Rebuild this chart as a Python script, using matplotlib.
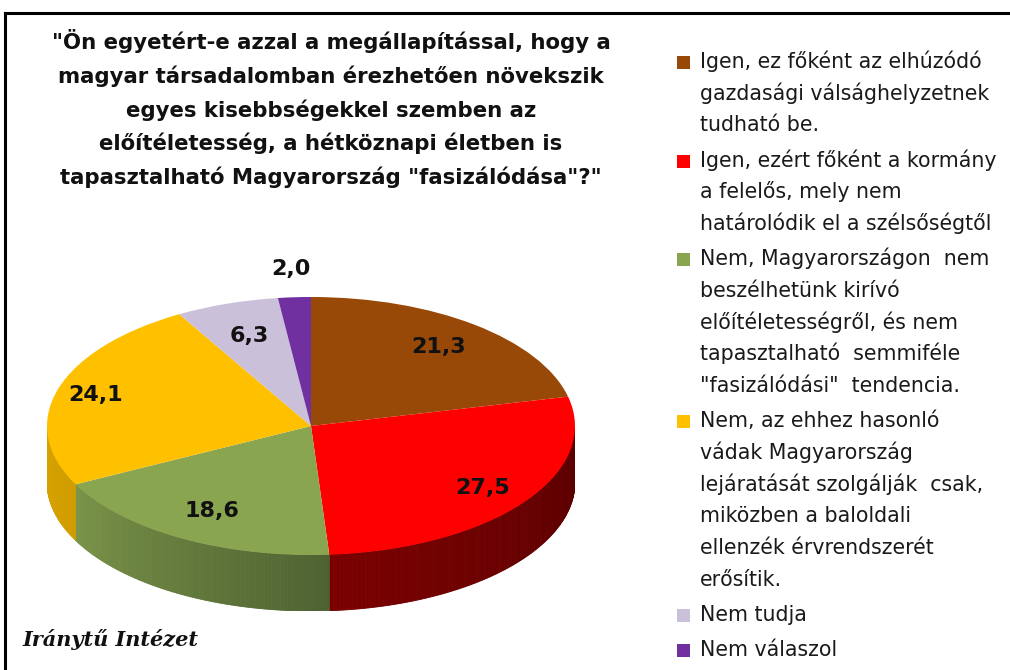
import numpy as np
import matplotlib
matplotlib.use("Agg")
import matplotlib.pyplot as plt
from matplotlib.lines import Line2D
from matplotlib.patches import Rectangle, Polygon
from matplotlib.colors import to_rgb

# ---------------- data ----------------
title_lines = [
    '"Ön egyetért-e azzal a megállapítással, hogy a',
    'magyar társadalomban érezhetően növekszik',
    'egyes kisebbségekkel szemben az',
    'előítéletesség, a hétköznapi életben is',
    'tapasztalható Magyarország "fasizálódása"?"',
]
categories = [
    ["Igen, ez főként az elhúzódó", "gazdasági válsághelyzetnek", "tudható be."],
    ["Igen, ezért főként a kormány", "a felelős, mely nem", "határolódik el a szélsőségtől"],
    ["Nem, Magyarországon  nem", "beszélhetünk kirívó", "előítéletességről, és nem",
     "tapasztalható  semmiféle", '"fasizálódási"  tendencia.'],
    ["Nem, az ehhez hasonló", "vádak Magyarország", "lejáratását szolgálják  csak,",
     "miközben a baloldali", "ellenzék érvrendszerét", "erősítik."],
    ["Nem tudja"],
    ["Nem válaszol"],
]
values = [21.3, 27.5, 18.6, 24.1, 6.3, 2.0]
source = "Iránytű Intézet"

# ---------------- style ----------------
top_colors = ["#984807", "#ff0000", "#8aa550", "#ffc000", "#cbc0da", "#7030a0"]
side_left = ["#6a3204", "#7a0000", "#7a9448", "#d9a400", "#9a90a8", "#4e2070"]
side_right = ["#5a2a03", "#5a0000", "#4e6231", "#d09c00", "#8a8098", "#40185e"]
label_radius = [0.78, 0.81, 0.76, 0.85, 0.74, 1.22]

W, H = 1010, 670
fig = plt.figure(figsize=(W / 100, H / 100), dpi=100)
fig.patch.set_facecolor("white")

def fx(px):
    return px / W

def fy(py):
    return 1 - py / H

# pie geometry (pixels)
cx_l, cx_r = 47, 575
top_px, face_bottom_px, side_bottom_px = 297, 555, 611
half_h = (face_bottom_px - top_px) / 2
depth = (side_bottom_px - face_bottom_px) / half_h

ax = fig.add_axes([fx(cx_l), fy(side_bottom_px), fx(cx_r - cx_l),
                   (side_bottom_px - top_px) / H])
wedges, _ = ax.pie(values, colors=top_colors, startangle=90, counterclock=False,
                   radius=1, center=(0, 0),
                   wedgeprops=dict(linewidth=0, zorder=3))
ax.set_aspect("auto")
ax.set_xlim(-1, 1)
ax.set_ylim(-1 - depth, 1)
ax.axis("off")

# side walls of the 3D pie (front half only)
for i, w in enumerate(wedges):
    t1, t2 = w.theta1, w.theta2
    segs = []
    for shift in (-360, 0, 360):
        lo = max(t1 + shift, -180)
        hi = min(t2 + shift, 0)
        if hi > lo:
            segs.append((lo, hi))
    c1 = np.array(to_rgb(side_left[i]))
    c2 = np.array(to_rgb(side_right[i]))
    for lo, hi in segs:
        n = max(int((hi - lo) * 2), 2)
        ts = np.linspace(lo, hi, n + 1)
        for k in range(n):
            a, b = np.radians(ts[k]), np.radians(ts[k + 1])
            f = k / max(n - 1, 1)
            col = c1 * (1 - f) + c2 * f
            poly = [(np.cos(a), np.sin(a)), (np.cos(b), np.sin(b)),
                    (np.cos(b), np.sin(b) - depth), (np.cos(a), np.sin(a) - depth)]
            ax.add_patch(Polygon(poly, closed=True, facecolor=col, edgecolor=col,
                                 linewidth=0.6, zorder=1))

# value labels
for i, w in enumerate(wedges):
    mid = np.radians((w.theta1 + w.theta2) / 2)
    r = label_radius[i]
    ax.text(r * np.cos(mid), r * np.sin(mid), f"{values[i]:.1f}".replace(".", ","),
            ha="center", va="center", fontsize=16, fontweight="bold",
            family="DejaVu Sans", color="#111111", zorder=5)

# title (one baseline per line)
title_base = 49
title_step = 33.8
for i, ln in enumerate(title_lines):
    fig.text(fx(331), fy(title_base + i * title_step), ln, ha="center", va="baseline",
             fontsize=15.3, fontweight="bold", family="DejaVu Sans", color="#111111")

# legend (manual)
line_step = 31.7
entry_gap = 3.5
y0 = 62
line_idx = 0
for e, lines in enumerate(categories):
    y_first = y0 + line_idx * line_step + e * entry_gap
    fig.add_artist(Rectangle((fx(677), fy(y_first + 7)), fx(13), 13 / H,
                             facecolor=top_colors[e], edgecolor="none",
                             transform=fig.transFigure))
    for j, ln in enumerate(lines):
        fig.text(fx(700), fy(y_first + j * line_step + 6), ln, ha="left",
                 va="baseline", fontsize=14.8, family="DejaVu Sans", color="#1a1a1a")
    line_idx += len(lines)

# source
fig.text(fx(22), fy(640), source, ha="left", va="center", fontsize=15,
         fontweight="bold", style="italic", family="DejaVu Serif", color="#111111")

# frame
fig.add_artist(Line2D([fx(5), fx(5)], [fy(13), 0], color="black", linewidth=2.2,
                      transform=fig.transFigure))
fig.add_artist(Line2D([fx(5), 1], [fy(13), fy(13)], color="black", linewidth=2.2,
                      transform=fig.transFigure))

fig.savefig("out.png", dpi=100, facecolor="white")
